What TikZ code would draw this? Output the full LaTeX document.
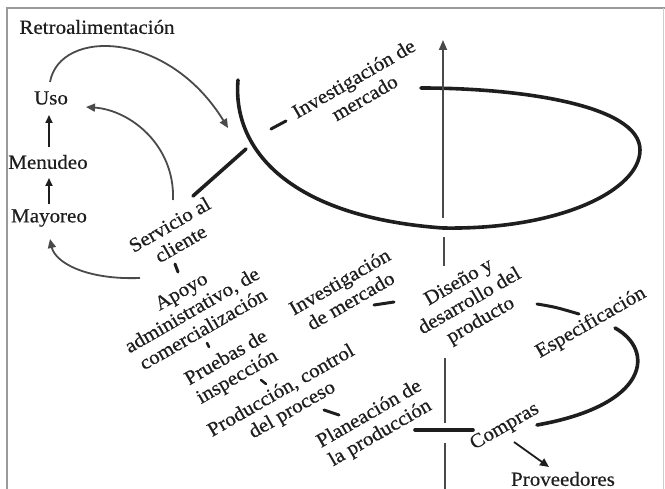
\documentclass[tikz,border=0pt]{standalone}
\usepackage{fontspec}
\setmainfont{Liberation Serif}[FakeStretch=1.05,FakeBold=0.5]
\usetikzlibrary{arrows.meta}
\definecolor{ink}{HTML}{1E1E1E}
\definecolor{thin}{HTML}{4A4A4A}
\definecolor{frame}{HTML}{9A9A9A}
\tikzset{
  lbl/.style={font=\fontsize{20}{22}\selectfont, text=ink, inner sep=0pt, align=center},
  rlbl/.style={lbl, rotate=30},
  heavy/.style={draw=ink, line width=3.6pt, line cap=round},
  tickmark/.style={draw=ink, line width=3pt, line cap=round},
  fb/.style={draw=thin, line width=1.8pt, -{Triangle[length=9pt,width=8pt]}},
  axis/.style={draw=thin, line width=1.8pt},
  upar/.style={draw=ink, line width=1.8pt, -{Triangle[length=8pt,width=7pt]}}
}
\begin{document}
\begin{tikzpicture}[x=1pt,y=-1pt]
\useasboundingbox (0,0) rectangle (665,489);
% frame
\draw[frame, line width=2pt] (7,489) -- (7,8) -- (665,8);
\draw[frame!50, line width=1pt] (663,8) -- (663,489);

% nodes
\node[lbl] (ret) at (97,27) {Retroalimentación};
\node[lbl] (uso) at (51,98) {Uso};
\node[lbl] (men) at (48,162) {Menudeo};
\node[lbl] (may) at (49,218) {Mayoreo};
\node[rlbl] (inv1) at (359,88) {Investigación de\\mercado};
\node[rlbl] (srv) at (175,234) {Servicio al\\cliente};
\node[rlbl] (apo) at (192,310) {Apoyo\\administrativo, de\\comercialización};
\node[rlbl] (pru) at (232,368) {Pruebas de\\inspección};
\node[rlbl] (pro) at (287,401) {Producción, control\\del proceso};
\node[rlbl] (pla) at (375,424) {Planeación de\\la producción};
\node[rlbl] (inv2) at (345,291) {Investigación\\de mercado};
\node[rlbl] (dis) at (470,302) {Diseño y\\desarrollo del\\producto};
\node[rlbl] (esp) at (591,323) {Especificación};
\node[rlbl] (com) at (505,427) {Compras};
\node[lbl] (prov) at (563,479) {Proveedores};

% coordinates
\coordinate (ftop) at (238,80);
\coordinate (fbot) at (443,228);
\coordinate (fright) at (640,150);
\coordinate (fend) at (421,88);
\coordinate (j) at (246,149);
\coordinate (stem) at (193,196);

% big fish / loop
\draw[heavy] (ftop) .. controls (232,150) and (290,217) .. (fbot)
  .. controls (560,230) and (640,190) .. (fright)
  .. controls (640,105) and (520,88) .. (fend);
\draw[heavy] (stem) -- (j);

% vertical axis
\coordinate (a0) at (443,40);
\coordinate (a1) at (443,218);
\coordinate (a2) at (444,237);
\coordinate (a3) at (444,266);
\coordinate (a4) at (445,358);
\coordinate (a5) at (445,423);
\coordinate (a6) at (445,443);
\coordinate (a7) at (445,489);
\draw[axis, -{Triangle[length=10pt,width=8pt]}] (a1) -- (a0);
\draw[axis] (a2) -- (a3);
\draw[axis] (a4) -- (a5);
\draw[axis] (a6) -- (a7);

% left chain arrows
\coordinate (m1) at (49,147); \coordinate (u1) at (49,115);
\draw[upar] (m1) -- (u1);
\coordinate (y1) at (49,204); \coordinate (m2) at (49,178);
\draw[upar] (y1) -- (m2);
\coordinate (apoL) at (140,278);
\coordinate (mayB) at (50,239);
\draw[fb] (apoL) .. controls (85,280) and (55,262) .. (mayB);
\coordinate (usoT) at (50,82);
\coordinate (fbtip) at (228,128);
\draw[fb] (usoT) .. controls (60,28) and (168,30) .. (fbtip);
\coordinate (srvT) at (173,200);
\coordinate (usoR) at (86,107);
\draw[fb] (srvT) .. controls (175,145) and (130,110) .. (usoR);

% short marks
\coordinate (d1a) at (271,129); \coordinate (d1b) at (286,121);
\draw[tickmark] (d1a) -- (d1b);
\coordinate (d2a) at (175,264); \coordinate (d2b) at (178,272);
\draw[tickmark] (d2a) -- (d2b);
\coordinate (d3a) at (207,343); \coordinate (d3b) at (209,347);
\draw[tickmark, line width=2.5pt] (d3a) -- (d3b);
\coordinate (d4a) at (261,380); \coordinate (d4b) at (266,384);
\draw[tickmark, line width=2.5pt] (d4a) -- (d4b);
\coordinate (d5a) at (324,410); \coordinate (d5b) at (339,415);
\draw[tickmark] (d5a) -- (d5b);
\coordinate (d6a) at (374,305); \coordinate (d6b) at (394,302);
\draw[tickmark] (d6a) -- (d6b);
\coordinate (d7a) at (537,304); \coordinate (d7b) at (579,314);
\draw[tickmark] (d7a) .. controls (555,307) .. (d7b);
\coordinate (barL) at (415,430); \coordinate (barR) at (473,430);
\draw[heavy] (barL) -- (barR);

% especificacion -> compras curve
\coordinate (espE) at (615,328); \coordinate (comE) at (537,425);
\draw[heavy] (espE) .. controls (655,350) and (650,405) .. (comE);

% compras -> proveedores
\coordinate (comB) at (514,442); \coordinate (provT) at (549,467);
\draw[draw=ink, line width=1.8pt, -{Triangle[length=9pt,width=8pt]}] (comB) -- (provT);
\end{tikzpicture}
\end{document}
